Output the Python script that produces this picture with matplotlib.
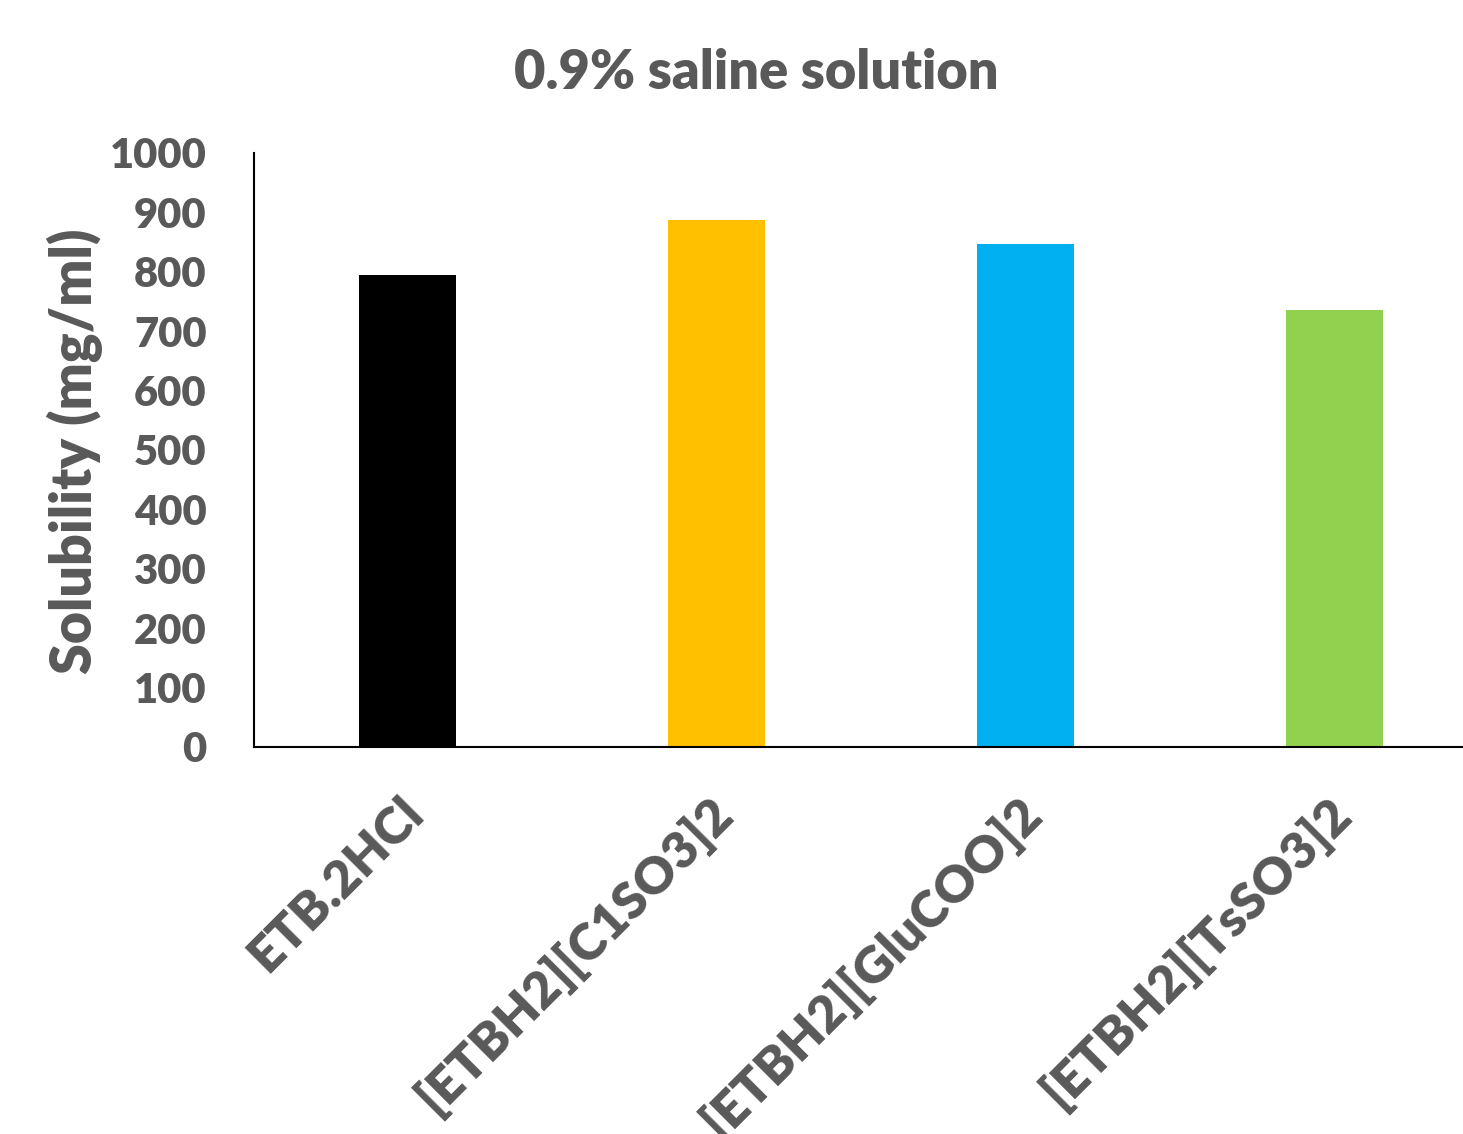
import matplotlib.pyplot as plt
import numpy as np
from matplotlib import transforms

categories = ['ETB.2HCl', '[ETBH2][C1SO3]2', '[ETBH2][GluCOO]2', '[ETBH2][TsSO3]2']
solubility = [795, 888, 847, 735]
bar_colors = ['#000000', '#FFC000', '#00B0F0', '#92D050']
yticks = list(range(0, 1001, 100))

grey = '#595959'
wt = 'heavy'
plt.rcParams['font.family'] = ['Lato', 'DejaVu Sans']

fig = plt.figure(figsize=(14.63, 11.34), dpi=100)
ax = fig.add_axes([0.1736, 0.3413, 0.8264, 0.5238])

x = np.arange(len(categories))
ax.bar(x, solubility, width=0.315, color=bar_colors)

ax.set_xlim(-0.497, 3.416)
ax.set_ylim(0, 1000)
ax.set_yticks(yticks)
ax.set_yticklabels([str(v) for v in yticks], fontsize=30, fontweight=wt, color=grey)
ax.tick_params(axis='y', length=0, pad=34)

ax.set_xticks(x)
ax.set_xticklabels(categories, fontsize=37, fontweight=wt, color=grey,
                   rotation=45, ha='right', va='center', rotation_mode='anchor')
ax.tick_params(axis='x', length=0, pad=42)
off = transforms.ScaledTranslation(8 / 100, 0, fig.dpi_scale_trans)
for lbl in ax.get_xticklabels():
    lbl.set_transform(lbl.get_transform() + off)

for s in ['top', 'right']:
    ax.spines[s].set_visible(False)
for s in ['left', 'bottom']:
    ax.spines[s].set_linewidth(1.5)
    ax.spines[s].set_color('#000000')

fig.text(0.517, 0.936, '0.9% saline solution', fontsize=39, fontweight=wt,
         color=grey, ha='center', va='center')
fig.text(0.051, 0.602, 'Solubility (mg/ml)', fontsize=40, fontweight=wt,
         color=grey, ha='center', va='center', rotation=90)

fig.savefig('out.png', dpi=100)
